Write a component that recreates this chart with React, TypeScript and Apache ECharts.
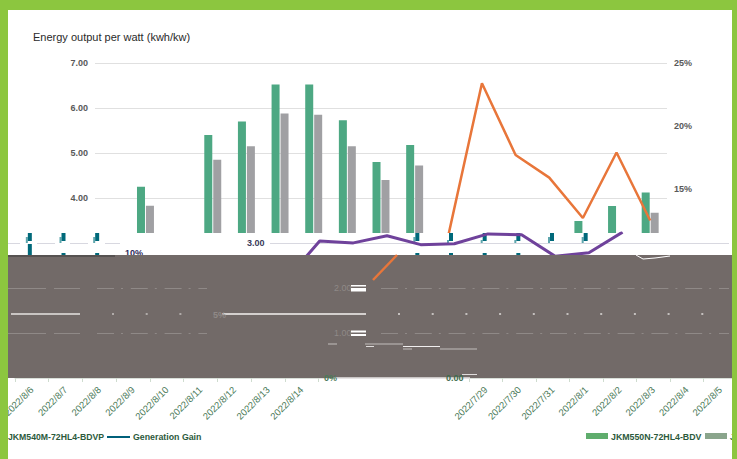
import React, { useEffect, useRef } from "react";
import * as echarts from "echarts";

const dates = ["2022/7/29","2022/7/30","2022/7/31","2022/8/1","2022/8/2","2022/8/3","2022/8/4","2022/8/5","2022/8/6","2022/8/7","2022/8/8","2022/8/9","2022/8/10","2022/8/11","2022/8/12","2022/8/13","2022/8/14"];
const greenBars = [null,4.25,null,5.40,5.70,6.52,6.52,5.73,4.80,5.18,null,null,null,null,3.49,3.82,4.12];
const greyBars = [null,3.83,null,4.85,5.15,5.88,5.85,5.15,4.40,4.72,null,null,null,null,null,null,3.67];
const orangeLine = [null,null,null,null,null,null,null,null,null,null,11.3,23.4,17.7,15.9,12.7,17.9,12.5];
const orangePiece = [7.8,9.76];
const purpleLine = [null,null,null,null,null,2.18,3.04,3.0,3.16,2.96,2.98,3.2,3.18,2.7,2.78,3.24,null];
const leftLabels = ["0.00","1.00","2.00","3.00","4.00","5.00","6.00","7.00"];
const rightLabels = ["0%","5%","10%","15%","20%","25%"];

const tealLeftCats = ["2022/8/6","2022/8/7","2022/8/8"];
const tealLeftStem = [11,2,2];
const tealLeftHead = [8,8,8];
const tealLeftTail = [6,6,6];
const tealRightCats = dates.slice(5,14);
const tealRightStem = [2,10,2,2,2,2,2,0,0];
const tealRightHead = [8,0,8,8,8,8,8,8,8];
const tealRightTail = [3,0,3,6,3,3,3,6,6];

const FONT = "Liberation Sans, Arial, sans-serif";
const GREY = "#726a68";
const GREEN_BORDER = "#8cc63f";
const LABEL_GREEN = "#4a7a58";
const LEGEND_GREEN = "#2c5a3c";

const rect = (x: number, y: number, width: number, height: number, fill: string, z: number) => ({
  type: "rect", z, shape: { x, y, width, height }, style: { fill },
});
const line = (x1: number, y1: number, x2: number, y2: number, stroke: string, z: number, lineWidth = 1, lineDash?: number[]) => ({
  type: "line", z, shape: { x1, y1, x2, y2 }, style: { stroke, lineWidth, lineDash },
});
const text = (s: string, x: number, y: number, fill: string, z: number, font = `bold 9px ${FONT}`) => ({
  type: "text", z, x, y, style: { text: s, fill, font, textAlign: "left", textVerticalAlign: "middle" },
});

function tealGrid(gridIndex: number, cats: string[], stem: number[], head: number[], tail: number[]) {
  const gap = stem.map((s) => 14 - s);
  const mk = (name: string, stack: string, data: number[], color: string) => ({
    type: "bar", name, stack, data, xAxisIndex: gridIndex, yAxisIndex: gridIndex, z: 12,
    barGap: 0, barWidth: stack === "light" ? 2 : 4,
    itemStyle: { color }, silent: true, animation: false,
  });
  return [
    mk("tailBase", "light", stem.map(() => 12), "transparent"),
    mk("tail", "light", tail, "#5fa6ad"),
    mk("stem", "dark", stem, "#00697a"),
    mk("gap", "dark", gap, "transparent"),
    mk("Generation Gain", "dark", head, "#00697a"),
  ];
}

function buildOption() {
  const hiddenX = (gridIndex: number, data: string[], boundaryGap = true) => ({ type: "category", gridIndex, data, show: false, boundaryGap });
  const hiddenY = (gridIndex: number, min: number, max: number) => ({ type: "value", gridIndex, min, max, show: false });
  const labelX = (gridIndex: number, data: string[]) => ({
    type: "category", gridIndex, data,
    axisLine: { show: true, lineStyle: { color: "#d9dfd9" } },
    axisTick: { show: true, length: 4, alignWithLabel: false, lineStyle: { color: "#cfdccf" } },
    axisLabel: { rotate: 45, interval: 0, color: LABEL_GREEN, fontFamily: FONT, fontSize: 9.5, margin: 10 },
  });
  const z10 = 10, z11 = 11, z20 = 20, z21 = 21, z30 = 30;
  const gridDash = [17, 7, 2, 7.8];
  return {
    animation: false,
    backgroundColor: "#ffffff",
    title: {
      text: "Energy output per watt (kwh/kw)", left: 28, top: 26,
      textStyle: { fontFamily: FONT, fontSize: 11, fontWeight: "normal", color: "#2a2a2a" },
    },
    grid: [
      { left: 95, top: 63, width: 572, height: 315 },
      { left: 101, top: 233, width: 572, height: 22 },
      { left: 12, top: 233, width: 101, height: 22 },
      { left: 298.5, top: 233, width: 303, height: 22 },
      { left: 14.5, top: 370, width: 304, height: 8 },
      { left: 469, top: 370, width: 270, height: 8 },
      { left: 373, top: 255, width: 24, height: 25 },
    ],
    xAxis: [
      hiddenX(0, dates),
      hiddenX(1, dates),
      hiddenX(2, tealLeftCats),
      hiddenX(3, tealRightCats),
      labelX(4, dates.slice(8)),
      labelX(5, dates.slice(0, 8)),
      hiddenX(6, ["a", "b"], false),
    ],
    yAxis: [
      {
        type: "value", gridIndex: 0, min: 0, max: 7, interval: 1, position: "left",
        axisLine: { show: false }, axisTick: { show: false },
        splitLine: { lineStyle: { color: "#e0e0e0" } },
        axisLabel: {
          color: "#595959", fontFamily: FONT, fontSize: 9, fontWeight: "bold", margin: 7,
          formatter: (v: number) => (v >= 4 ? v.toFixed(2) : ""),
        },
      },
      hiddenY(1, 2.73, 3.22),
      hiddenY(2, 0, 22),
      hiddenY(3, 0, 22),
      { type: "value", gridIndex: 4, show: false },
      { type: "value", gridIndex: 5, show: false },
      hiddenY(6, 7.8, 9.76),
      {
        type: "value", gridIndex: 0, min: 0, max: 25, interval: 5, position: "right",
        axisLine: { show: false }, axisTick: { show: false }, splitLine: { show: false },
        axisLabel: {
          color: "#595959", fontFamily: FONT, fontSize: 9, fontWeight: "bold", margin: 7,
          formatter: (v: number) => (v >= 15 ? v + "%" : ""),
        },
      },
    ],
    series: [
      {
        type: "bar", name: "JKM550N-72HL4-BDV", data: greenBars, xAxisIndex: 0, yAxisIndex: 0,
        barWidth: 8, barGap: "12%", z: 2, itemStyle: { color: "#4da883" },
      },
      {
        type: "bar", name: "JKM540M-72HL4-BDVP", data: greyBars, xAxisIndex: 0, yAxisIndex: 0,
        barWidth: 8, barGap: "12%", z: 2, itemStyle: { color: "#a0a0a3" },
      },
      {
        type: "line", name: "Orange", data: orangeLine, xAxisIndex: 0, yAxisIndex: 7, z: 3,
        showSymbol: false, lineStyle: { color: "#e8763a", width: 2.5 },
      },
      {
        type: "line", name: "Purple", data: purpleLine, xAxisIndex: 1, yAxisIndex: 1, z: 13,
        showSymbol: false, lineStyle: { color: "#6f429b", width: 3 },
      },
      ...tealGrid(2, tealLeftCats, tealLeftStem, tealLeftHead, tealLeftTail),
      ...tealGrid(3, tealRightCats, tealRightStem, tealRightHead, tealRightTail),
      {
        type: "line", name: "OrangePiece", data: orangePiece, xAxisIndex: 6, yAxisIndex: 6, z: 25,
        showSymbol: false, clip: false, lineStyle: { color: "#e8763a", width: 2.5 },
      },
      { type: "bar", data: [], xAxisIndex: 4, yAxisIndex: 4 },
      { type: "bar", data: [], xAxisIndex: 5, yAxisIndex: 5 },
    ],
    graphic: {
      elements: [
        rect(8, 233, 724, 22, "#ffffff", z10),
        line(270, 243.5, 729, 243.5, "#d8d8e0", z11),
        line(8, 243.5, 20, 243.5, "#d8d8e0", z11),
        line(37, 243.5, 55, 243.5, "#d8d8e0", z11),
        line(70, 243.5, 88, 243.5, "#d8d8e0", z11),
        line(105, 243.5, 120, 243.5, "#d8d8e0", z11),
        text(leftLabels[3], 247, 243, "#3a3a5a", z11),
        text(rightLabels[2], 125, 253, "#2e2a5c", z11),

        rect(8, 255, 724, 123, GREY, z20),
        line(8, 256, 115, 256, "#3a3a3a", z21),
        { type: "polyline", z: z21, shape: { points: [[636, 255], [643, 259], [655, 258], [670, 256]] }, style: { stroke: "#ffffff", fill: "none", lineWidth: 1 } },

        line(8, 288.5, 46, 288.5, "#8f8987", z21),
        line(54, 288.5, 80, 288.5, "#8f8987", z21),
        line(97, 288.5, 207, 288.5, "#8f8987", z21, 1, gridDash),
        line(381, 288.5, 729, 288.5, "#8f8987", z21, 1, gridDash),
        line(8, 333.5, 46, 333.5, "#8f8987", z21),
        line(54, 333.5, 80, 333.5, "#8f8987", z21),
        line(97, 333.5, 207, 333.5, "#8f8987", z21, 1, gridDash),
        line(381, 333.5, 729, 333.5, "#8f8987", z21, 1, gridDash),

        line(11, 314, 80, 314, "#c9c5c3", z21, 2),
        line(222, 314, 366, 314, "#d4d0ce", z21, 2),
        line(112, 314, 190, 314, "#b0aba9", z21, 2, [2, 31.7]),
        line(398, 314, 729, 314, "#c4c0be", z21, 2, [2, 31.7]),
        text(rightLabels[1], 213, 315, "#8f8987", z21),
        text(leftLabels[2], 334, 288, "#8f8987", z21, `9px ${FONT}`),
        text(leftLabels[1], 334, 333, "#8f8987", z21, `9px ${FONT}`),
        rect(351, 285, 15, 1.5, "#ffffff", z21),
        rect(351, 288, 15, 3.5, "#ffffff", z21),
        rect(351, 330.5, 15, 2, "#ffffff", z21),
        rect(351, 334, 15, 2, "#ffffff", z21),
        line(328, 344, 337, 344, "#a8a3a1", z21, 1.5),
        line(365, 344, 403, 344, "#a8a3a1", z21, 1.5),
        line(366, 346.5, 374, 346.5, "#e0dddc", z21),
        line(403, 346.5, 440, 346.5, "#f0eeee", z21),
        line(403, 349, 412, 349, "#a8a3a1", z21, 1.5),
        line(440, 349, 477, 349, "#a8a3a1", z21, 1.5),
        line(462, 374.5, 477, 374.5, "#e0dddc", z21),
        line(333, 378, 470, 378, "#e8e6e6", z21, 1.5),
        text(rightLabels[0], 324, 378, LABEL_GREEN, z21),
        text(leftLabels[0], 446, 378, "#3e6b4c", z21),

        text("JKM540M-72HL4-BDVP", 8, 437, LEGEND_GREEN, z21, `bold 8.7px ${FONT}`),
        line(107, 437, 130, 437, "#00607a", z21, 2),
        text("Generation Gain", 133, 437, LEGEND_GREEN, z21, `bold 8.8px ${FONT}`),
        rect(586, 433, 22, 6, "#5fad6d", z21),
        text("JKM550N-72HL4-BDV", 611, 436.5, LEGEND_GREEN, z21, `bold 8.8px ${FONT}`),
        rect(705, 433, 22, 6, "#8aa58c", z21),
        text("J", 730, 436.5, LEGEND_GREEN, z21, `bold 8.8px ${FONT}`),

        rect(0, 0, 737, 10, GREEN_BORDER, z30),
        rect(0, 0, 8, 459, GREEN_BORDER, z30),
        rect(732, 0, 5, 459, GREEN_BORDER, z30),
      ],
    },
  };
}

export default function App() {
  const ref = useRef<HTMLDivElement>(null);
  useEffect(() => {
    document.body.style.margin = "0";
    const chart = echarts.init(ref.current!, undefined, { renderer: "svg" });
    chart.setOption(buildOption() as any);
    return () => chart.dispose();
  }, []);
  return <div ref={ref} style={{ width: 737, height: 459 }} />;
}
